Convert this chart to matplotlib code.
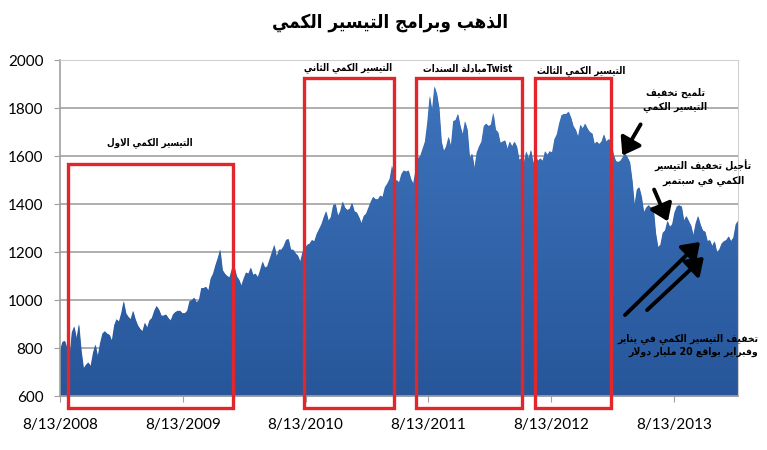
import re
import numpy as np
import pandas as pd
import matplotlib
matplotlib.use("Agg")
import matplotlib.pyplot as plt
import matplotlib.dates as mdates
from matplotlib.patches import Rectangle, FancyArrowPatch
from matplotlib.colors import LinearSegmentedColormap

# weekly gold price (USD/oz), starting 8/13/2008
gold_2008 = [790, 825, 830, 800, 760, 865, 890, 840, 900, 790, 715, 730,
             740, 725, 780, 815, 765, 820, 860, 870]
gold_2009 = [860, 855, 830, 895, 920, 910, 945, 995, 945, 930, 920, 955, 920,
             895, 880, 870, 905, 885, 915, 925, 955, 975, 960, 935, 935, 940,
             925, 915, 940, 950, 955, 955, 945, 945, 955, 995, 1000, 1010, 990,
             1000, 1050, 1050, 1055, 1040, 1090, 1110, 1145, 1175, 1210, 1125,
             1110, 1100]
gold_2010 = [1095, 1130, 1140, 1100, 1085, 1060, 1090, 1115, 1110, 1135, 1105,
             1110, 1095, 1125, 1160, 1135, 1140, 1170, 1200, 1230, 1180, 1210,
             1210, 1225, 1250, 1255, 1210, 1210, 1195, 1185, 1160, 1200, 1215,
             1230, 1235, 1250, 1245, 1275, 1295, 1315, 1345, 1370, 1330, 1345,
             1395, 1400, 1350, 1370, 1410, 1385, 1375, 1380, 1405]
gold_2011 = [1370, 1365, 1345, 1320, 1350, 1360, 1385, 1410, 1430, 1420, 1420,
             1435, 1430, 1470, 1485, 1505, 1560, 1490, 1500, 1490, 1525, 1540,
             1535, 1540, 1505, 1485, 1540, 1590, 1600, 1630, 1660, 1740, 1850,
             1790, 1890, 1860, 1800, 1660, 1620, 1640, 1680, 1640, 1745, 1750,
             1775, 1725, 1690, 1745, 1710, 1590, 1610, 1550]
gold_2012 = [1615, 1640, 1660, 1725, 1735, 1725, 1730, 1780, 1710, 1700, 1655,
             1660, 1665, 1630, 1660, 1640, 1660, 1640, 1585, 1590, 1570, 1620,
             1590, 1625, 1570, 1600, 1580, 1590, 1580, 1620, 1605, 1620, 1615,
             1670, 1690, 1735, 1770, 1775, 1775, 1785, 1760, 1725, 1710, 1680,
             1730, 1715, 1735, 1715, 1700, 1695, 1650, 1660]
gold_2013 = [1650, 1660, 1690, 1660, 1670, 1665, 1610, 1580, 1575, 1580, 1595,
             1610, 1595, 1575, 1500, 1395, 1460, 1470, 1430, 1365, 1385, 1395,
             1385, 1390, 1280, 1220, 1230, 1280, 1290, 1330, 1305, 1315, 1365,
             1390, 1395, 1390, 1330, 1350, 1330, 1310, 1270, 1320, 1350, 1315,
             1290, 1285, 1245, 1250, 1225, 1245, 1200, 1210]
gold_2014 = [1235, 1245, 1250, 1265, 1245, 1260, 1315, 1330]
gold = gold_2008 + gold_2009 + gold_2010 + gold_2011 + gold_2012 + gold_2013 + gold_2014
dates = pd.date_range("2008-08-13", periods=len(gold), freq="7D")

x_ticks = ["2008-08-13", "2009-08-13", "2010-08-13", "2011-08-13", "2012-08-13", "2013-08-13"]
x_tick_labels = ["8/13/2008", "8/13/2009", "8/13/2010", "8/13/2011", "8/13/2012", "8/13/2013"]
y_ticks = [600, 800, 1000, 1200, 1400, 1600, 1800, 2000]

# QE programme boxes
qe_starts = ["2008-09-06", "2010-08-10", "2011-07-08", "2012-06-25"]
qe_ends = ["2010-01-08", "2011-05-02", "2012-05-17", "2013-02-07"]
qe_tops = [1567, 1925, 1925, 1925]
qe_labels = ["التيسير الكمي الاول", "التيسير الكمي الثاني",
             "Twistمبادلة السندات", "التيسير الكمي الثالث"]

title = "الذهب وبرامج التيسير الكمي"
note_hint = "تلميح تخفيف\nالتيسير الكمي"
note_delay = "تأجيل تخفيف التيسير\nالكمي في سبتمبر"
note_taper = "تخفيف التيسير الكمي في يناير\nوفبراير بواقع 20 مليار دولار"

# --- tiny arabic shaper (matplotlib 3.10 has no complex text layout) ---
FORMS = {
    "ا": (0xFE8D, 0xFE8E, None, None), "أ": (0xFE83, 0xFE84, None, None),
    "ب": (0xFE8F, 0xFE90, 0xFE91, 0xFE92), "ة": (0xFE93, 0xFE94, None, None),
    "ت": (0xFE95, 0xFE96, 0xFE97, 0xFE98), "ث": (0xFE99, 0xFE9A, 0xFE9B, 0xFE9C),
    "ج": (0xFE9D, 0xFE9E, 0xFE9F, 0xFEA0), "ح": (0xFEA1, 0xFEA2, 0xFEA3, 0xFEA4),
    "خ": (0xFEA5, 0xFEA6, 0xFEA7, 0xFEA8), "د": (0xFEA9, 0xFEAA, None, None),
    "ذ": (0xFEAB, 0xFEAC, None, None), "ر": (0xFEAD, 0xFEAE, None, None),
    "ز": (0xFEAF, 0xFEB0, None, None), "س": (0xFEB1, 0xFEB2, 0xFEB3, 0xFEB4),
    "ع": (0xFEC9, 0xFECA, 0xFECB, 0xFECC), "ف": (0xFED1, 0xFED2, 0xFED3, 0xFED4),
    "ق": (0xFED5, 0xFED6, 0xFED7, 0xFED8), "ك": (0xFED9, 0xFEDA, 0xFEDB, 0xFEDC),
    "ل": (0xFEDD, 0xFEDE, 0xFEDF, 0xFEE0), "م": (0xFEE1, 0xFEE2, 0xFEE3, 0xFEE4),
    "ن": (0xFEE5, 0xFEE6, 0xFEE7, 0xFEE8), "ه": (0xFEE9, 0xFEEA, 0xFEEB, 0xFEEC),
    "و": (0xFEED, 0xFEEE, None, None), "ي": (0xFEF1, 0xFEF2, 0xFEF3, 0xFEF4),
    "ى": (0xFEEF, 0xFEF0, None, None),
}
LAM_ALEF = {"ا": (0xFEFB, 0xFEFC), "أ": (0xFEF7, 0xFEF8)}


def shape(s):
    out = []
    i = 0
    while i < len(s):
        c = s[i]
        if c not in FORMS:
            out.append(c)
            i += 1
            continue
        prev = s[i - 1] if i > 0 else None
        jp = prev in FORMS and FORMS[prev][2] is not None
        if c == "ل" and i + 1 < len(s) and s[i + 1] in LAM_ALEF:
            iso, fin = LAM_ALEF[s[i + 1]]
            out.append(chr(fin if jp else iso))
            i += 2
            continue
        nxt = s[i + 1] if i + 1 < len(s) else None
        jn = FORMS[c][2] is not None and nxt in FORMS
        iso, fin, ini, med = FORMS[c]
        f = med if (jp and jn) else fin if jp else ini if jn else iso
        out.append(chr(f))
        i += 1
    return "".join(out)


def ar(text):
    lines = []
    for line in text.split("\n"):
        toks = re.findall(r"[A-Za-z0-9]+|[^A-Za-z0-9]+", line)
        toks = [t if re.match(r"[A-Za-z0-9]", t) else shape(t)[::-1] for t in toks]
        lines.append("".join(toks[::-1]))
    return "\n".join(lines)


W, H = 767, 450


def px(x, y):
    return (x / W, 1 - y / H)


fig = plt.figure(figsize=(W / 100, H / 100), dpi=100)
ax = fig.add_axes([60 / W, 1 - 396 / H, 678 / W, 336 / H])

xs = mdates.date2num(dates)
poly = ax.fill_between(xs, gold, 600, color="#3465aa", lw=0, zorder=2)
grad = np.linspace(0, 1, 256).reshape(-1, 1)
cmap = LinearSegmentedColormap.from_list("g", ["#27569a", "#3f76bf"])
im = ax.imshow(grad, extent=[xs[0], xs[-1], 600, 2000], origin="lower",
               aspect="auto", cmap=cmap, zorder=2.1)
im.set_clip_path(poly.get_paths()[0], transform=ax.transData)

ax.set_xlim(xs[0], xs[-1])
ax.set_ylim(600, 2000)
ax.set_yticks(y_ticks)
ax.set_xticks(mdates.date2num(pd.to_datetime(x_ticks)))
ax.set_xticklabels(x_tick_labels)
ax.grid(axis="y", color="#a8a8a8", lw=1.3, zorder=1)
for s in ["top", "right"]:
    ax.spines[s].set_color("#d0d0d0")
    ax.spines[s].set_linewidth(0.8)
for s in ["left", "bottom"]:
    ax.spines[s].set_color("#a0a0a0")
    ax.spines[s].set_linewidth(1.2)
ax.tick_params(axis="both", colors="#a0a0a0", labelcolor="black", length=4,
               labelsize=11)
ax.tick_params(axis="x", pad=12)
ax.tick_params(axis="y", pad=8)
for lab in ax.get_xticklabels() + ax.get_yticklabels():
    lab.set_family("Lato")

# red boxes
for s0, s1, top in zip(qe_starts, qe_ends, qe_tops):
    x0 = mdates.date2num(pd.Timestamp(s0))
    x1 = mdates.date2num(pd.Timestamp(s1))
    ax.add_patch(Rectangle((x0, 550), x1 - x0, top - 550, fill=False,
                           ec="#e3262c", lw=2.4, clip_on=False, zorder=4))

fkw = dict(family="DejaVu Sans", weight="bold", color="black", stretch="condensed")
fig.text(*px(390, 22), ar(title), ha="center", va="center", fontsize=13.5, **fkw)
label_pos = [(150, 143), (348, 68), (468, 68), (581, 71)]
for lab, (lx, ly) in zip(qe_labels, label_pos):
    fig.text(*px(lx, ly), ar(lab), ha="center", va="center", fontsize=7, **fkw)
fig.text(*px(675, 100), ar(note_hint), ha="center", va="center", fontsize=7.5,
         linespacing=1.35, **fkw)
fig.text(*px(703, 173), ar(note_delay), ha="center", va="center", fontsize=7.5,
         linespacing=1.35, **fkw)
fig.text(*px(758, 345), ar(note_taper), ha="right", va="center", fontsize=7.5,
         linespacing=1.35, **fkw)

arrows = [((642, 122), (621, 158)), ((653, 187), (669, 224)),
          ((623, 317), (702, 240)), ((645, 312), (706, 255))]
for (tx, ty), (hx, hy) in arrows:
    fig.add_artist(FancyArrowPatch(
        px(tx, ty), px(hx, hy), transform=fig.transFigure,
        arrowstyle="-|>,head_length=0.5,head_width=0.35", mutation_scale=20,
        lw=2.8, color="black", zorder=6))

fig.savefig("out.png", dpi=100)
